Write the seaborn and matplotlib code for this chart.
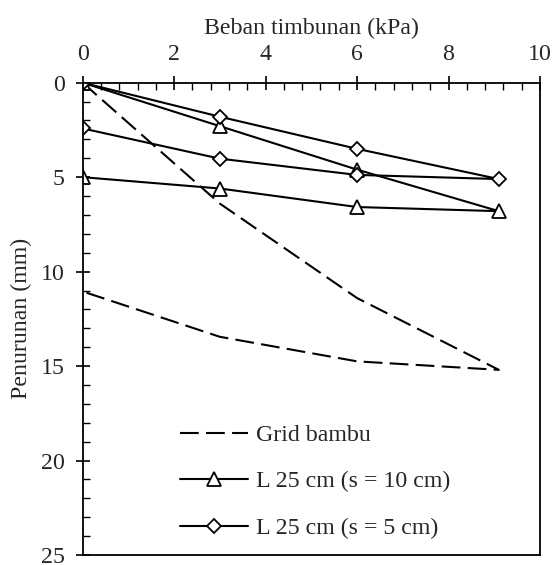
import matplotlib
matplotlib.use("Agg")
import matplotlib.pyplot as plt
import seaborn as sns
import pandas as pd
from matplotlib.ticker import MultipleLocator

sns.set_style("white")
plt.rcParams['font.family'] = ['Liberation Serif', 'DejaVu Serif']
plt.rcParams['mathtext.fontset'] = 'stix'

# Load path: loading then unloading (kPa)
load = [0, 3, 6, 9.1, 6, 3, 0]
grid_bambu = [0, 6.4, 11.4, 15.2, 14.75, 13.45, 11.05]
l25_s10 = [0, 2.3, 4.6, 6.8, 6.58, 5.6, 5.0]
l25_s5 = [0, 1.8, 3.5, 5.1, 4.88, 4.02, 2.42]
labels = ["Grid bambu", "L 25 cm (s = 10 cm)", "L 25 cm (s = 5 cm)"]

fig = plt.figure(figsize=(5.53, 5.65), dpi=100)
ax = fig.add_axes([0.1495, 0.0177, 0.8270, 0.8359])

fs = 17.2
lw = 1.5

df_g = pd.DataFrame({"x": load, "y": grid_bambu})
df_10 = pd.DataFrame({"x": load, "y": l25_s10})
df_5 = pd.DataFrame({"x": load, "y": l25_s5})

sns.lineplot(data=df_g, x="x", y="y", sort=False, estimator=None, ax=ax,
             color="black", linewidth=lw, linestyle=(0, (9, 3.5)), label=labels[0])
sns.lineplot(data=df_10, x="x", y="y", sort=False, estimator=None, ax=ax,
             color="black", linewidth=lw, marker="^", markersize=10,
             markerfacecolor="white", markeredgecolor="black", markeredgewidth=1.3,
             label=labels[1])
sns.lineplot(data=df_5, x="x", y="y", sort=False, estimator=None, ax=ax,
             color="black", linewidth=lw, marker="D", markersize=7.5,
             markerfacecolor="white", markeredgecolor="black", markeredgewidth=1.3,
             label=labels[2])

ax.set_xlim(0, 10)
ax.set_ylim(25, 0)
ax.xaxis.set_major_locator(MultipleLocator(2))
ax.xaxis.set_minor_locator(MultipleLocator(0.4))
ax.yaxis.set_major_locator(MultipleLocator(5))
ax.yaxis.set_minor_locator(MultipleLocator(1))
ax.xaxis.tick_top()
ax.xaxis.set_label_position("top")

ax.tick_params(axis="both", which="major", direction="inout", length=10, width=1.2,
               labelsize=fs, color="black", pad=8)
ax.tick_params(axis="both", which="minor", direction="in", length=5, width=1.0,
               color="black")
ax.tick_params(axis="x", which="both", top=True, bottom=False)
ax.tick_params(axis="y", which="both", left=True, right=False)

for s in ax.spines.values():
    s.set_color("black")
    s.set_linewidth(1.3)

ax.set_xlabel("Beban timbunan (kPa)", fontsize=fs, labelpad=7)
ax.set_ylabel("Penurunan (mm)", fontsize=fs, labelpad=6)

leg = ax.legend(loc="upper left", bbox_to_anchor=(0.213, 0.277), frameon=False,
                fontsize=fs, handlelength=2.83, handletextpad=0.33, labelspacing=1.04,
                borderpad=0, borderaxespad=0)

fig.savefig("out.png", dpi=100)
